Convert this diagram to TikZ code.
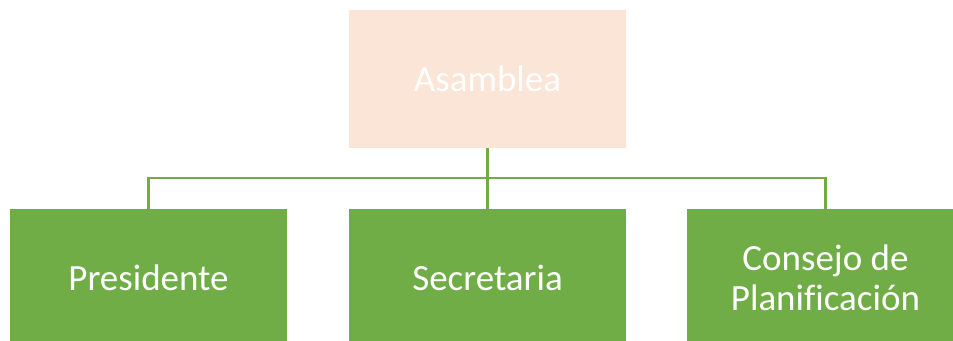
\documentclass[tikz,border=0pt]{standalone}
\usepackage{fontspec}
\setmainfont[Ligatures=NoCommon]{Carlito}
\definecolor{peach}{HTML}{FAE5D7}
\definecolor{grn}{HTML}{70AD47}
\begin{document}
\begin{tikzpicture}[x=1pt,y=-1pt,
  box/.style={draw=none,rectangle,minimum width=277pt,minimum height=138pt,inner sep=0pt,
    text=white,font=\fontsize{37}{40}\selectfont,align=center},
  link/.style={draw=grn,line width=2.5pt}]
\useasboundingbox (0,0) rectangle (953,340);
\clip (0,0) rectangle (953,340);
\fill[white] (0,0) rectangle (953,340);
\node[box,fill=peach] (asam) at (487.5,79) {Asamblea};
\node[box,fill=grn] (pres) at (148.5,278) {Presidente};
\node[box,fill=grn] (sec) at (487.5,278) {Secretaria};
\node[box,fill=grn] (cons) at (825.5,278) {Consejo de\\Planificación};
\coordinate (j) at (487.5,178);
\draw[link] (asam.south) -- (sec.north);
\draw[link] (j) -| (pres.north);
\draw[link] (j) -| (cons.north);
\end{tikzpicture}
\end{document}
